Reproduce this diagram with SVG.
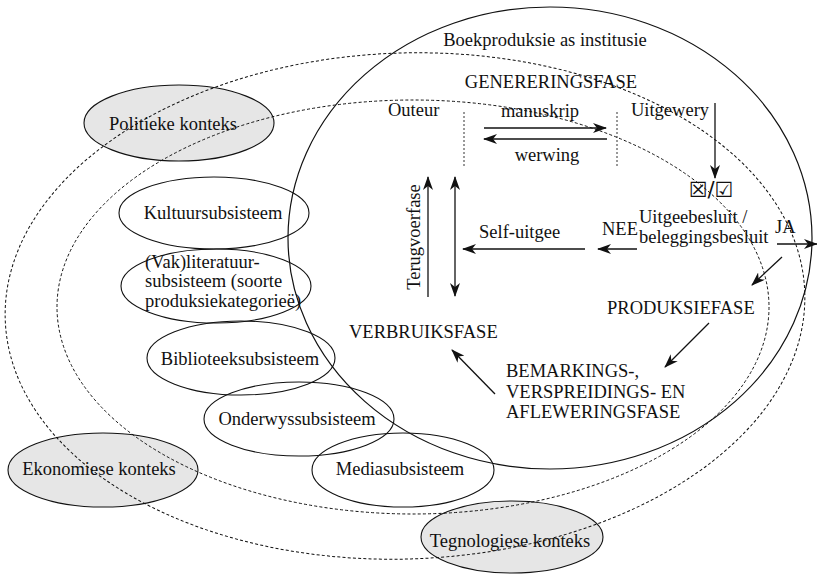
<svg xmlns="http://www.w3.org/2000/svg" width="817" height="574" viewBox="0 0 817 574">
<defs>
<style>
text{font-family:"Liberation Serif","Times New Roman",serif;font-size:18.5px;fill:#111}
.ctx{fill:#e6e6e6;stroke:#111;stroke-width:1.1}
.sub{fill:none;stroke:#111;stroke-width:1.1}
.dash{fill:none;stroke:#111;stroke-width:1;stroke-dasharray:3 2.2}
.solid{fill:none;stroke:#111;stroke-width:1.2}
.ln{fill:none;stroke:#111;stroke-width:1.3}
.dot{fill:none;stroke:#333;stroke-width:1;stroke-dasharray:2 2}
.sym{font-family:"DejaVu Sans",sans-serif;font-size:21px}
</style>
<marker id="ah" viewBox="0 0 14 10" refX="13" refY="5" markerWidth="14" markerHeight="10" markerUnits="userSpaceOnUse" orient="auto-start-reverse">
<path d="M0,0 L14,5 L0,10 L4,5 z" fill="#111"/>
</marker>
</defs>
<g id="ctx-fills">
<g id="politieke"><ellipse class="ctx" cx="179" cy="123" rx="95" ry="38"/></g>
<g id="ekonomiese"><ellipse class="ctx" cx="103" cy="470" rx="95" ry="37"/></g>
<g id="tegnologiese"><ellipse class="ctx" cx="512" cy="537" rx="91" ry="36"/></g>
</g>
<g id="frames">
<ellipse class="dash" cx="405" cy="306" rx="400" ry="253" transform="rotate(-2 405 306)"/>
<ellipse class="dash" cx="413" cy="307" rx="356" ry="207"/>
<g id="instelling"><ellipse class="solid" cx="550" cy="238" rx="262" ry="231"/></g>
</g>
<g id="subsystems">
<g id="kultuur"><ellipse class="sub" cx="214" cy="213" rx="95" ry="36"/><text x="213" y="219" text-anchor="middle">Kultuursubsisteem</text></g>
<g id="vakliteratuur"><ellipse class="sub" cx="216" cy="286" rx="95" ry="37"/>
<text x="145" y="268">(Vak)literatuur-</text><text x="145" y="287">subsisteem (soorte</text><text x="145" y="307">produksiekategorieë)</text></g>
<g id="biblioteek"><ellipse class="sub" cx="241" cy="358" rx="94" ry="37"/><text x="240" y="365" text-anchor="middle">Biblioteeksubsisteem</text></g>
<g id="onderwys"><ellipse class="sub" cx="299" cy="419" rx="95" ry="37"/><text x="297" y="425" text-anchor="middle">Onderwyssubsisteem</text></g>
<g id="media"><ellipse class="sub" cx="403" cy="470" rx="91" ry="37"/><text x="400" y="475" text-anchor="middle">Mediasubsisteem</text></g>
</g>
<g id="ctx-labels">
<text x="173" y="130" text-anchor="middle">Politieke konteks</text>
<text x="99" y="475" text-anchor="middle">Ekonomiese konteks</text>
<text x="510" y="547" text-anchor="middle">Tegnologiese konteks</text>
</g>
<g id="phases">
<text x="545" y="46" text-anchor="middle">Boekproduksie as institusie</text>
<text x="551" y="88" text-anchor="middle">GENERERINGSFASE</text>
<text x="388" y="116">Outeur</text>
<text x="540" y="117" text-anchor="middle">manuskrip</text>
<text x="547" y="161" text-anchor="middle">werwing</text>
<text x="670" y="116" text-anchor="middle">Uitgewery</text>
<text class="sym" x="711" y="197" text-anchor="middle">☒/☑</text>
<text x="602" y="235">NEE</text>
<text x="639" y="223">Uitgeebesluit /</text>
<text x="639" y="243">beleggingsbesluit</text>
<text x="775" y="233">JA</text>
<text x="479" y="238">Self-uitgee</text>
<text transform="translate(420,237) rotate(-90)" text-anchor="middle">Terugvoerfase</text>
<text x="607" y="314">PRODUKSIEFASE</text>
<text x="349" y="338">VERBRUIKSFASE</text>
<text x="506" y="377">BEMARKINGS-,</text>
<text x="506" y="398">VERSPREIDINGS- EN</text>
<text x="506" y="418">AFLEWERINGSFASE</text>
</g>
<g id="connectors">
<line class="dot" x1="464" y1="112" x2="464" y2="168"/>
<line class="dot" x1="617" y1="112" x2="617" y2="168"/>
<line class="ln" x1="484" y1="128" x2="606" y2="128" marker-end="url(#ah)"/>
<line class="ln" x1="607" y1="139" x2="484" y2="139" marker-end="url(#ah)"/>
<line class="ln" x1="715" y1="103" x2="715" y2="178" marker-end="url(#ah)"/>
<line class="ln" x1="637" y1="249" x2="598" y2="249" marker-end="url(#ah)"/>
<line class="ln" x1="585" y1="249" x2="463" y2="249" marker-end="url(#ah)"/>
<line class="ln" x1="777" y1="244" x2="817" y2="244" marker-end="url(#ah)"/>
<line class="ln" x1="428" y1="297" x2="428" y2="177" marker-end="url(#ah)"/>
<line class="ln" x1="455" y1="177" x2="455" y2="296" marker-start="url(#ah)" marker-end="url(#ah)"/>
<line class="ln" x1="782" y1="257" x2="752" y2="285" marker-end="url(#ah)"/>
<line class="ln" x1="709" y1="323" x2="665" y2="367" marker-end="url(#ah)"/>
<line class="ln" x1="495" y1="394" x2="452" y2="350" marker-end="url(#ah)"/>
</g>
</svg>
